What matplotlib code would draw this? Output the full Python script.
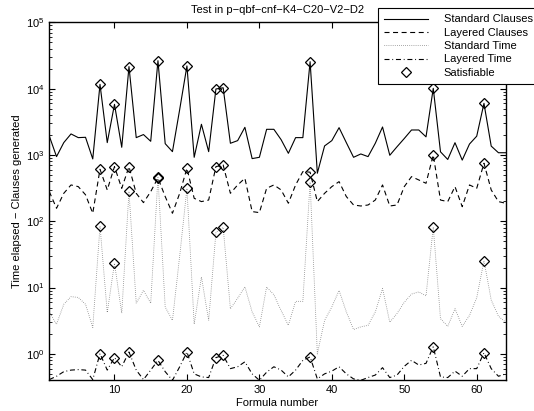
import numpy as np
import matplotlib
matplotlib.use("Agg")
import matplotlib.pyplot as plt

plt.rcParams['font.family'] = ['Liberation Sans', 'DejaVu Sans']
plt.rcParams['mathtext.fontset'] = 'custom'
plt.rcParams['mathtext.rm'] = 'Liberation Sans'

# formula index 1..64
formula = np.arange(1, 65)

std_clauses = [1930, 944, 1535, 2075, 1825, 1846, 871, 11600, 1535, 5800,
               1305, 21500, 1825, 2030, 1607, 26400, 1480, 1122, 4850, 22000,
               922, 2900, 1122, 9880, 10300, 1500, 1645, 2612, 881, 922,
               2436, 2436, 1700, 1059, 1825, 1825, 25500, 530, 1368, 1645,
               2580, 1535, 922, 1035, 944, 1500, 2640, 989, 1330, 1770,
               2380, 2380, 1875, 10100, 1115, 855, 1530, 836, 1460, 1920,
               6000, 1360, 1080, 1080]

lay_clauses = [280, 157, 264, 353, 333, 251, 132, 608, 297, 667,
               314, 667, 264, 191, 280, 450, 236, 132, 264, 630,
               222, 198, 209, 667, 706, 264, 353, 445, 140, 135,
               314, 353, 297, 187, 353, 561, 550, 198, 264, 333,
               396, 236, 176, 170, 176, 209, 353, 170, 176, 333,
               471, 420, 374, 1000, 209, 198, 333, 166, 353, 314,
               750, 297, 198, 187]

std_time = [4.3, 2.8, 5.6, 7.3, 7.1, 5.6, 2.5, 85, 4.2, 23.3,
            4.1, 282, 5.8, 9.1, 5.8, 460, 5.1, 3.2, 30, 313,
            2.8, 14.5, 3.2, 68, 81, 4.8, 6.9, 10.3, 4.3, 2.56,
            10.2, 7.8, 4.5, 2.7, 6.2, 6.2, 390, 1.0, 3.2, 5.1,
            9.1, 4.3, 2.33, 2.56, 2.7, 4.3, 9.7, 3.0, 4.07, 6.0,
            8.0, 8.6, 7.5, 82, 3.4, 2.6, 4.8, 2.6, 3.8, 7.0,
            25.5, 6.5, 3.7, 3.0]

lay_time = [0.41, 0.46, 0.54, 0.57, 0.58, 0.57, 0.41, 1.01, 0.57, 0.88,
            0.64, 1.07, 0.57, 0.41, 0.57, 0.80, 0.54, 0.40, 0.64, 1.07,
            0.50, 0.45, 0.44, 0.88, 0.95, 0.60, 0.64, 0.76, 0.50, 0.40,
            0.53, 0.64, 0.57, 0.45, 0.57, 0.80, 0.90, 0.42, 0.50, 0.55,
            0.64, 0.50, 0.42, 0.40, 0.44, 0.48, 0.62, 0.44, 0.48, 0.65,
            0.80, 0.68, 0.72, 1.28, 0.45, 0.44, 0.55, 0.46, 0.60, 0.60,
            1.04, 0.60, 0.46, 0.50]

# satisfiable formulas
sat = [8, 10, 12, 16, 20, 24, 25, 37, 54, 61]

fig = plt.figure(figsize=(5.34, 4.11), dpi=100)
ax = fig.add_axes([0.0923, 0.0747, 0.8547, 0.8710])

ax.plot(formula, std_clauses, color='k', lw=0.8, label='Standard Clauses')
ax.plot(formula, lay_clauses, color='k', lw=0.8, dashes=(4.5, 3.2), label='Layered Clauses')
ax.plot(formula, std_time, color='0.35', lw=0.6, dashes=(0.7, 1.8), label='Standard Time')
ax.plot(formula, lay_time, color='k', lw=0.8, dashes=(4.5, 2.5, 0.8, 2.5), label='Layered Time')

idx = [s - 1 for s in sat]
for series in (std_clauses, lay_clauses, std_time, lay_time):
    ax.plot(sat, [series[i] for i in idx], ls='none', marker='D', ms=5.2,
            mfc='none', mec='k', mew=0.9)
# one handle for the legend
ax.plot([], [], ls='none', marker='D', ms=5.2, mfc='none', mec='k', mew=0.9,
        label='Satisfiable')

ax.set_yscale('log')
ax.set_xlim(1, 64)
ax.set_ylim(0.4, 1e5)
ax.set_xticks([10, 20, 30, 40, 50, 60])
ax.set_yticks([1, 10, 100, 1000, 10000, 100000])
ax.tick_params(which='both', direction='in', top=True, right=True, labelsize=8)
ax.tick_params(which='major', length=4, width=0.8)
ax.tick_params(which='minor', length=2, width=0.6)
for s in ax.spines.values():
    s.set_linewidth(1.0)

ax.set_title('Test in p\u2212qbf\u2212cnf\u2212K4\u2212C20\u2212V2\u2212D2', fontsize=8, pad=6.5)
ax.set_xlabel('Formula number', fontsize=8, labelpad=2)
ax.set_ylabel('Time elapsed \u2212 Clauses generated', fontsize=8, labelpad=3)

leg = ax.legend(loc='upper left', bbox_to_anchor=(377.7 / 534, 1 - 8.3 / 411),
                bbox_transform=fig.transFigure, fontsize=8, frameon=True,
                fancybox=False, edgecolor='k', framealpha=1, handlelength=4.0,
                handletextpad=1.4, labelspacing=0.3, borderpad=0.55, borderaxespad=0)
leg.get_frame().set_linewidth(0.8)

fig.savefig('out.png', dpi=100)
